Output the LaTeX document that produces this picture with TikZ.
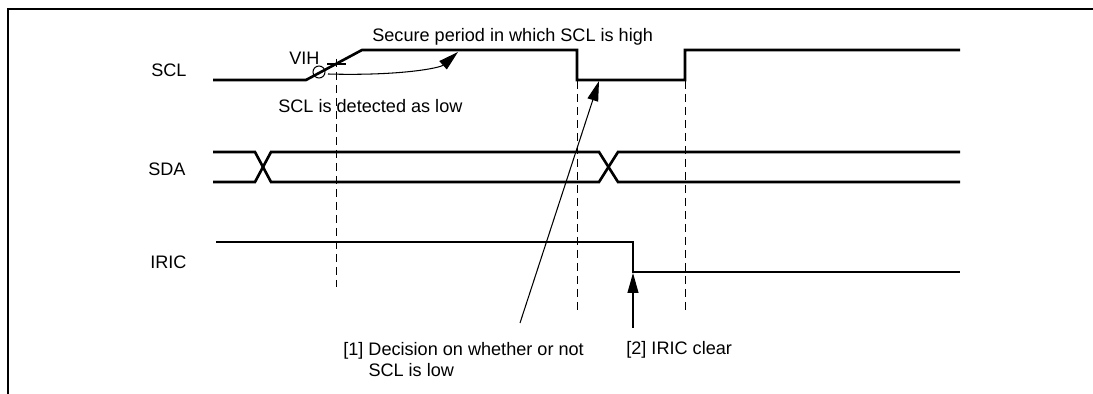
\documentclass[tikz,border=0pt]{standalone}
\usepackage{fontspec}
\setmainfont{Liberation Sans}
\usetikzlibrary{arrows.meta}

\begin{document}
\begin{tikzpicture}[
  x=0.02cm, y=-0.02cm,
  every node/.style={font=\fontsize{10.3}{12.5}\selectfont, inner sep=0pt},
  frame/.style={line width=1.4pt},
  sigline/.style={line width=1.5pt, line join=miter},
  guide/.style={line width=0.5pt, dash pattern=on 0.16cm off 0.1cm},
  ptr/.style={line width=0.6pt, -{Triangle[length=0.4cm, width=0.22cm]}},
  sigtag/.style={anchor=base west},
  note/.style={anchor=base west, align=left},
]
\useasboundingbox (0,0) rectangle (1093,394);

% Frame (top and left only)
\draw[frame] (1093,8.8) -- (8,8.8) -- (8,394);

% Signal names
\node[sigtag] (scl) at (151,77) {SCL};
\node[sigtag] (sda) at (148,176) {SDA};
\node[sigtag] (iric) at (150,269) {IRIC};

% SCL
\draw[sigline] (213,80) -- (306,80) -- (362,50) -- (577,50) -- (577,80)
  -- (685,80) -- (685,50) -- (960,50);

% SDA
\draw[sigline] (213,152) -- (255,152) -- (271,182) -- (599,182) -- (618,152) -- (960,152);
\draw[sigline] (213,182) -- (255,182) -- (271,152) -- (599,152) -- (618,182) -- (960,182);

% IRIC
\draw[sigline] (216,242) -- (633,242) -- (633,272) -- (960,272);

% VIH threshold mark
\draw[line width=0.6pt] (319,72) circle[radius=0.12cm];
\draw[line width=0.6pt] (327,64) -- (346,64);

% Timing guides
\draw[guide] (336,59) -- (336,287);
\draw[guide] (577,81) -- (577,313);
\draw[guide] (685,81) -- (685,313);

% Texts
\node[note] (vih) at (289,65) {VIH};
\node[note] (secure) at (372,42) {Secure period in which SCL is high};
\node[note] (detect) at (278,113) {SCL is detected as low};
\node[note] (dec) at (343,377) {[1] Decision on whether or not\\\hphantom{[1] }SCL is low};
\node[note] (clr) at (626,355) {[2] IRIC clear};

% Pointers
\coordinate (vihx) at (328,74);
\coordinate (hightip) at (458,52);
\coordinate (decfoot) at (520,323);
\coordinate (lowpt) at (599,81);
\coordinate (clrfoot) at (633,328);
\coordinate (clrpt) at (633,273);
\draw[ptr] (vihx) .. controls (400,76) and (440,68) .. (hightip);
\draw[ptr] (decfoot) -- (lowpt);
\draw[ptr] (clrfoot) -- (clrpt);

\end{tikzpicture}
\end{document}
